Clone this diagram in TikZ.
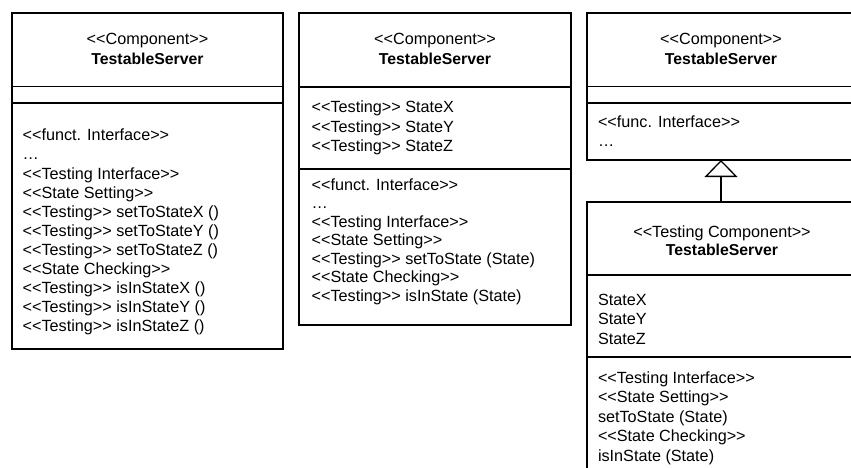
\documentclass[tikz,border=0pt]{standalone}
\usepackage{fontspec}
\setmainfont{Liberation Sans}[Ligatures=TeXOff]
\usetikzlibrary{arrows.meta}

\begin{document}
\begin{tikzpicture}[x=1pt,y=-1pt,
  comp/.style={draw, line width=1.3pt, rectangle, anchor=north west,
               outer sep=0pt, inner sep=0pt},
  txt/.style={anchor=base west, inner sep=0pt, outer sep=0pt,
              font=\fontsize{16.2}{19}\selectfont},
  ttl/.style={txt, anchor=base},
  nm/.style={ttl, font=\fontsize{15.8}{19}\selectfont\bfseries},
  gen/.style={line width=1.3pt, -{Triangle[open, length=17pt, width=33pt]}}]

\useasboundingbox (0,0) rectangle (851,468);
\clip (0,0) rectangle (851,468);
\fill[white] (0,0) rectangle (851,468);

% ---- component with one operation per state ----
\node[comp, minimum width=271pt, minimum height=73.5pt] (b1h) at (12,13) {};
\node[comp, minimum width=271pt, minimum height=16.5pt] (b1a) at (12,86.5) {};
\node[comp, minimum width=271pt, minimum height=246pt]  (b1o) at (12,103) {};
\node[ttl] (b1s) at (147.5,45) {<<Component>>};
\node[nm]  (b1n) at (147.5,65) {TestableServer};
\foreach \t [count=\i from 0] in {%
  {<<funct. Interface>>},{\dots},{<<Testing Interface>>},{<<State Setting>>},
  {<<Testing>> setToStateX ()},{<<Testing>> setToStateY ()},
  {<<Testing>> setToStateZ ()},{<<State Checking>>},
  {<<Testing>> isInStateX ()},{<<Testing>> isInStateY ()},
  {<<Testing>> isInStateZ ()}}
  \node[txt] (b1op\i) at (22.7,141+19*\i) {\t};

% ---- component with state attributes ----
\node[comp, minimum width=272pt, minimum height=74pt]  (b2h) at (299,13) {};
\node[comp, minimum width=272pt, minimum height=82pt]  (b2a) at (299,87) {};
\node[comp, minimum width=272pt, minimum height=156pt] (b2o) at (299,169) {};
\node[ttl] (b2s) at (435,45) {<<Component>>};
\node[nm]  (b2n) at (435,65) {TestableServer};
\foreach \t [count=\i from 0] in {%
  {<<Testing>> StateX},{<<Testing>> StateY},{<<Testing>> StateZ}}
  \node[txt] (b2at\i) at (311.7,113+19.5*\i) {\t};
\foreach \t [count=\i from 0] in {%
  {<<funct. Interface>>},{\dots},{<<Testing Interface>>},{<<State Setting>>},
  {<<Testing>> setToState (State)},{<<State Checking>>},
  {<<Testing>> isInState (State)}}
  \node[txt] (b2op\i) at (311.7,190+18.5*\i) {\t};

% ---- functional component ----
\node[comp, minimum width=268pt, minimum height=73.5pt] (b3h) at (587,13) {};
\node[comp, minimum width=268pt, minimum height=16.5pt] (b3a) at (587,86.5) {};
\node[comp, minimum width=268pt, minimum height=57pt]   (b3o) at (587,103) {};
\node[ttl] (b3s) at (721,45) {<<Component>>};
\node[nm]  (b3n) at (721,65) {TestableServer};
\node[txt] (b3op0) at (598,128) {<<func. Interface>>};
\node[txt] (b3op1) at (598,146.5) {\dots};

% ---- testing component derived from it ----
\node[comp, minimum width=268pt, minimum height=73pt]  (b4h) at (587,202) {};
\node[comp, minimum width=268pt, minimum height=82pt]  (b4a) at (587,275) {};
\node[comp, minimum width=268pt, minimum height=130pt] (b4o) at (587,357) {};
\node[ttl] (b4s) at (722,237) {<<Testing Component>>};
\node[nm]  (b4n) at (722,255) {TestableServer};
\foreach \t [count=\i from 0] in {StateX,StateY,StateZ}
  \node[txt] (b4at\i) at (598,305+19.5*\i) {\t};
\foreach \t [count=\i from 0] in {%
  {<<Testing Interface>>},{<<State Setting>>},{setToState (State)},
  {<<State Checking>>},{isInState (State)}}
  \node[txt] (b4op\i) at (598,383+19.5*\i) {\t};

% generalization
\draw[gen] (b4h.north) -- (b3o.south);
\end{tikzpicture}
\end{document}
